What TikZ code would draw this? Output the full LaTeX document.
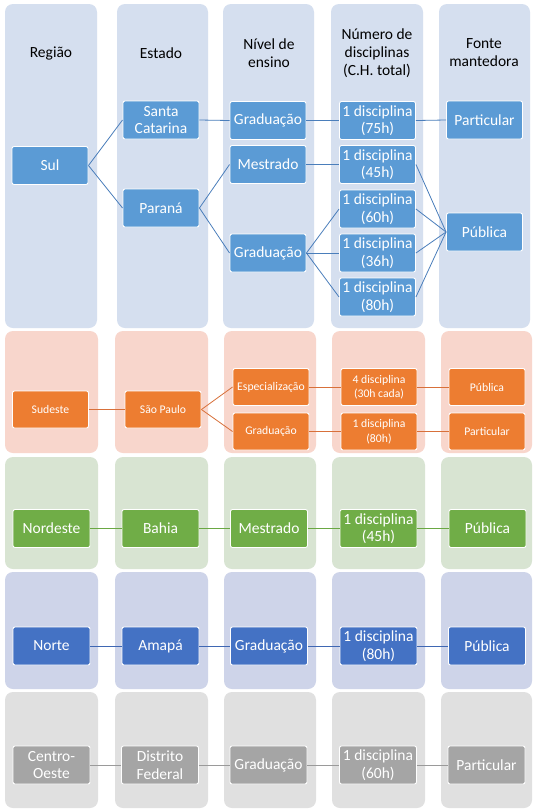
\documentclass[tikz,border=0pt]{standalone}
\usepackage{fontspec}
\setmainfont{Carlito}
\definecolor{sulpanel}{HTML}{D5DFEF}
\definecolor{sulnode}{HTML}{5B9BD5}
\definecolor{sulline}{HTML}{4A7EBB}
\definecolor{sepanel}{HTML}{F8D6CC}
\definecolor{senode}{HTML}{ED7D31}
\definecolor{seline}{HTML}{D8703A}
\definecolor{nepanel}{HTML}{D8E4D2}
\definecolor{nenode}{HTML}{70AD47}
\definecolor{neline}{HTML}{6AA843}
\definecolor{nopanel}{HTML}{CED4E9}
\definecolor{nonode}{HTML}{4472C4}
\definecolor{noline}{HTML}{3F67B3}
\definecolor{copanel}{HTML}{E0E0E0}
\definecolor{conode}{HTML}{A5A5A5}
\definecolor{coline}{HTML}{9A9A9A}
\tikzset{
  box/.style={rectangle, rounded corners=2pt, draw=white, line width=0.9pt,
    text=white, align=center, minimum width=76pt, minimum height=38pt,
    inner sep=1pt, font=\fontsize{15.5}{17.5}\selectfont},
  smallbox/.style={box, font=\fontsize{11.7}{14.5}\selectfont},
  head/.style={align=center, text=black, font=\fontsize{15.5}{18}\selectfont},
  panel/.style={rounded corners=8pt},
  link/.style={line width=0.8pt}
}
\begin{document}
\begin{tikzpicture}[x=1pt,y=-1pt]
\useasboundingbox (0,0) rectangle (538,812);
\fill[white] (0,0) rectangle (538,812);
% panels
\foreach \l/\r in {5/97,117/208,223/314,331/423,439/530}{
  \fill[sulpanel,panel] (\l,4) rectangle (\r,328);
}
\foreach \l/\r in {5/98,115/208,224/316,332/425,441/532}{
  \fill[sepanel,panel] (\l,331) rectangle (\r,453);
  \fill[nepanel,panel] (\l,457) rectangle (\r,569);
  \fill[nopanel,panel] (\l,572) rectangle (\r,689);
  \fill[copanel,panel] (\l,692) rectangle (\r,808);
}
% headers
\node[head] (h1) at (51,53) {Região};
\node[head] (h2) at (161,53) {Estado};
\node[head] (h3) at (269,53) {Nível de\\ensino};
\node[head] (h4) at (377,53) {Número de\\disciplinas\\(C.H. total)};
\node[head] (h5) at (484,53) {Fonte\\mantedora};
% Sul
\begin{scope}[every node/.style={box, fill=sulnode}]
\node (sul) at (50,165.5) {Sul};
\node (sc) at (161,120) {Santa\\Catarina};
\node (pr) at (161,208) {Paraná};
\node (g1) at (268,120.5) {Graduação};
\node (me) at (268,164.5) {Mestrado};
\node (g2) at (268,253) {Graduação};
\node (d75) at (377.5,120.5) {1 disciplina\\(75h)};
\node (d45) at (377.5,164.5) {1 disciplina\\(45h)};
\node (d60) at (377.5,209) {1 disciplina\\(60h)};
\node (d36) at (377.5,253) {1 disciplina\\(36h)};
\node (d80) at (377.5,297) {1 disciplina\\(80h)};
\node (spart) at (484.5,120) {Particular};
\node (spub) at (484.5,232) {Pública};
\end{scope}
\begin{scope}[sulline, link]
\draw (sul.east) -- (sc.west);
\draw (sul.east) -- (pr.west);
\draw (sc.east) -- (g1.west);
\draw (pr.east) -- (me.west);
\draw (pr.east) -- (g2.west);
\draw (g1.east) -- (d75.west);
\draw (me.east) -- (d45.west);
\draw (g2.east) -- (d60.west);
\draw (g2.east) -- (d36.west);
\draw (g2.east) -- (d80.west);
\draw (d75.east) -- (spart.west);
\draw (d45.east) -- (spub.west);
\draw (d60.east) -- (spub.west);
\draw (d36.east) -- (spub.west);
\draw (d80.east) -- (spub.west);
\end{scope}
% Sudeste
\begin{scope}[every node/.style={smallbox, fill=senode, minimum height=37pt}]
\node (se) at (50.5,409.5) {Sudeste};
\node (sp) at (163,409.5) {São Paulo};
\node (esp) at (271,387) {Especialização};
\node (seg) at (271,431.5) {Graduação};
\node (d4) at (379,387) {4 disciplina\\(30h cada)};
\node (d1) at (379,431.5) {1 disciplina\\(80h)};
\node (sepub) at (487,387) {Pública};
\node (separt) at (487,431.5) {Particular};
\end{scope}
\begin{scope}[seline, link]
\draw (se.east) -- (sp.west);
\draw (sp.east) -- (esp.west);
\draw (sp.east) -- (seg.west);
\draw (esp.east) -- (d4.west);
\draw (seg.east) -- (d1.west);
\draw (d4.east) -- (sepub.west);
\draw (d1.east) -- (separt.west);
\end{scope}
% Nordeste
\begin{scope}[every node/.style={box, fill=nenode, minimum width=77pt}]
\node (ne) at (51.5,528.5) {Nordeste};
\node (ba) at (160.5,528.5) {Bahia};
\node (nem) at (269,528.5) {Mestrado};
\node (ned) at (378.5,528.5) {1 disciplina\\(45h)};
\node (nep) at (487.5,528.5) {Pública};
\end{scope}
\begin{scope}[neline, link]
\draw (ne) -- (ba);
\draw (ba) -- (nem);
\draw (nem) -- (ned);
\draw (ned) -- (nep);
\end{scope}
% Norte
\begin{scope}[every node/.style={box, fill=nonode, minimum width=77pt}]
\node (no) at (51.5,646) {Norte};
\node (ap) at (160.5,646) {Amapá};
\node (nog) at (269,646) {Graduação};
\node (nod) at (378.5,646) {1 disciplina\\(80h)};
\node (nop) at (487,646) {Pública};
\end{scope}
\begin{scope}[noline, link]
\draw (no) -- (ap);
\draw (ap) -- (nog);
\draw (nog) -- (nod);
\draw (nod) -- (nop);
\end{scope}
% Centro-Oeste
\begin{scope}[every node/.style={box, fill=conode, minimum width=77pt}]
\node (co) at (51.5,765) {Centro-\\Oeste};
\node (df) at (160,765) {Distrito\\Federal};
\node (cog) at (268.5,765) {Graduação};
\node (cod) at (378,765) {1 disciplina\\(60h)};
\node (cop) at (486.5,765) {Particular};
\end{scope}
\begin{scope}[coline, link]
\draw (co) -- (df);
\draw (df) -- (cog);
\draw (cog) -- (cod);
\draw (cod) -- (cop);
\end{scope}
\end{tikzpicture}
\end{document}
